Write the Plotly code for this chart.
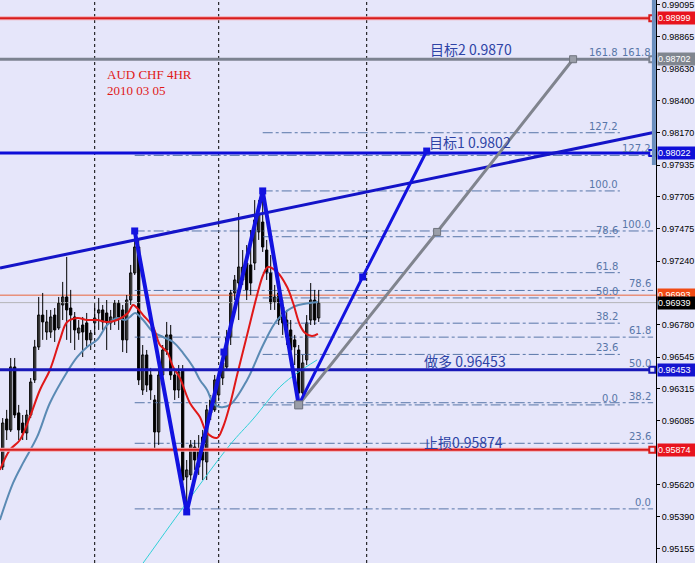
import plotly.graph_objects as go

# ---------------- data ----------------
candle_idx = list(range(80))
opens = [0.95749,0.96096,0.96017,0.96473,0.96140,0.96067,0.95995,0.96125,0.96379,0.96618,
         0.96849,0.96726,0.96726,0.96849,0.96755,0.96922,0.96980,0.96900,0.96835,0.96719,
         0.96777,0.96792,0.96669,0.96792,0.96864,0.96886,0.96864,0.96792,0.96813,0.96936,
         0.96886,0.96669,0.96958,0.97154,0.97342,0.96306,0.96560,0.96415,0.96234,0.96002,
         0.96415,0.96596,0.96705,0.96415,0.96306,0.96451,0.95676,0.95691,0.95893,0.95749,
         0.95966,0.95785,0.96140,0.96162,0.96270,0.96393,0.96473,0.96690,0.97009,0.97081,
         0.97103,0.97226,0.97212,0.97226,0.97451,0.97523,0.97320,0.97154,0.96944,0.97009,
         0.96907,0.96813,0.96741,0.96669,0.96596,0.96285,0.96524,0.96813,0.96958,0.96828]
highs = [0.96103,0.96162,0.96538,0.96538,0.96198,0.96125,0.96162,0.96393,0.96669,0.96980,
         0.97009,0.96886,0.96886,0.96900,0.96980,0.97089,0.97270,0.97031,0.96871,0.96813,
         0.96835,0.96864,0.96741,0.96922,0.96973,0.96922,0.96958,0.96886,0.96958,0.96958,
         0.96922,0.96994,0.97212,0.97458,0.97393,0.96632,0.96596,0.96466,0.96270,0.96466,
         0.96632,0.96799,0.96777,0.96451,0.96487,0.96487,0.95799,0.95944,0.95944,0.95980,
         0.96017,0.96198,0.96270,0.96415,0.96451,0.96560,0.96741,0.97031,0.97139,0.97588,
         0.97320,0.97356,0.97465,0.97682,0.97682,0.97748,0.97393,0.97284,0.97067,0.97081,
         0.96958,0.96886,0.96813,0.96705,0.96632,0.96560,0.96849,0.97081,0.97031,0.97031]
lows = [0.95727,0.95944,0.96002,0.96103,0.95944,0.95944,0.95944,0.96103,0.96357,0.96596,
        0.96669,0.96669,0.96683,0.96654,0.96741,0.96813,0.96669,0.96647,0.96596,0.96669,
        0.96545,0.96618,0.96596,0.96705,0.96741,0.96741,0.96596,0.96741,0.96777,0.96741,
        0.96581,0.96574,0.96922,0.97139,0.96342,0.96270,0.96292,0.96234,0.95872,0.95908,
        0.96379,0.96560,0.96379,0.96234,0.96248,0.95618,0.95423,0.95654,0.95727,0.95691,
        0.95654,0.95654,0.96089,0.96147,0.96234,0.96342,0.96451,0.96632,0.96958,0.96813,
        0.97067,0.96958,0.96994,0.97175,0.97393,0.97306,0.97103,0.96886,0.96886,0.96777,
        0.96705,0.96632,0.96524,0.96487,0.96198,0.96234,0.96487,0.96777,0.96777,0.96799]
closes = [0.96067,0.96017,0.96473,0.96125,0.96017,0.95995,0.96125,0.96364,0.96618,0.96849,
          0.96799,0.96799,0.96835,0.96741,0.96936,0.96980,0.96886,0.96849,0.96741,0.96755,
          0.96726,0.96669,0.96719,0.96828,0.96886,0.96799,0.96799,0.96835,0.96936,0.96835,
          0.96669,0.96958,0.97154,0.97342,0.96379,0.96560,0.96342,0.96306,0.96002,0.96415,
          0.96596,0.96705,0.96415,0.96306,0.96437,0.95654,0.95727,0.95908,0.95799,0.95872,
          0.95799,0.96162,0.96234,0.96379,0.96393,0.96502,0.96690,0.97009,0.97103,0.97197,
          0.97197,0.97031,0.97081,0.97538,0.97574,0.97342,0.97154,0.96936,0.96980,0.96813,
          0.96792,0.96690,0.96596,0.96618,0.96285,0.96502,0.96792,0.96958,0.96813,0.96936]

ma_fast_x = [-0.7,1.8,4.3,6.8,9.3,11.8,14.3,16.1,18.6,21.1,23.6,26.1,28.6,31.3,32.6,33.6,35.1,37.6,
             39.3,41.1,42.6,44.3,46.8,49.3,51.1,53.6,55.1,56.8,58.6,61.1,63.6,65.1,66.3,68.6,71.1,
             72.6,74.3,75.6,77.3,78.8]
ma_fast = [0.95727,0.95872,0.95944,0.96111,0.96306,0.96451,0.96669,0.96799,0.96828,0.96813,
           0.96813,0.96799,0.96813,0.96864,0.96922,0.96900,0.96849,0.96763,0.96632,0.96581,
           0.96473,0.96393,0.96212,0.96111,0.95995,0.95959,0.96038,0.96198,0.96415,0.96705,
           0.96994,0.97139,0.97197,0.97161,0.97052,0.96936,0.96777,0.96719,0.96697,0.96712]

ma_mid_x = [-0.7,2.6,5.1,8.6,11.8,16.1,18.6,21.1,23.6,26.1,28.6,30.6,31.8,33.1,35.1,37.6,40.1,
            42.6,45.1,47.6,49.3,51.1,52.6,54.3,56.8,61.1,65.1,68.6,72.6,76.8,78.8]
ma_mid = [0.95365,0.95633,0.95778,0.95966,0.96212,0.96437,0.96545,0.96618,0.96669,0.96777,
          0.96828,0.96813,0.96835,0.96864,0.96813,0.96726,0.96690,0.96654,0.96574,0.96473,
          0.96379,0.96306,0.96212,0.96183,0.96198,0.96379,0.96632,0.96813,0.96907,0.96936,0.96944]

ma_slow_x = [31.8,35.1,44.3,56.8,62.6,69.3,73.6,78.6]
ma_slow = [0.94923,0.95053,0.95423,0.95908,0.96096,0.96328,0.96429,0.96524]

# harmonic pattern X-A-B-C and projections
pattern_x = [33, 46, 65, 74]
pattern_y = [0.97458, 0.95423, 0.97748, 0.96198]
ab_mid_x = [55.3]
ab_mid_y = [0.96581]
proj_blue_x = [74, 90, 106]
proj_blue_y = [0.96198, 0.97125, 0.98037]
proj_gray_x = [74, 108.6, 142.6]
proj_gray_y = [0.96198, 0.97451, 0.98702]

trend_x = [-0.675, 163.3]
trend_y = [0.97190, 0.98175]

# horizontal price levels
stop_loss = 0.95874
entry = 0.96453
target1 = 0.98022
target2 = 0.98702
top_red = 0.98999
ask_price = 0.96993
bid_price = 0.96939

fib_levels = [0.0, 23.6, 38.2, 50.0, 61.8, 78.6, 100.0, 127.2, 161.8]
fib1 = dict(lo=0.96198, hi=0.97748, x0=65, x1=154.3)
fib2 = dict(lo=0.95445, hi=0.97458, x0=33, x1=162.6)

grid_x = [23, 54, 91]

# visible price-scale ticks (0.97010 and 0.95850 are hidden behind price tags in the original)
tick_vals = [0.99095, 0.98865, 0.98630, 0.98400, 0.98170, 0.97935, 0.97705, 0.97475, 0.97240,
             0.96780, 0.96545, 0.96315, 0.96085, 0.95620, 0.95390, 0.95155]
tick_text = ["%.5f" % v for v in tick_vals]

Y_RANGE = [0.95053, 0.99131]
X_RANGE = [-0.675, 163.325]

BG = "#E6E6FA"
FIBC = "#5876A8"
TXTC = "#2E44A6"

fig = go.Figure()

# fib sets
for fs in (fib1, fib2):
    xs, ys = [], []
    for lv in fib_levels:
        p = fs["lo"] + lv / 100.0 * (fs["hi"] - fs["lo"])
        xs += [fs["x0"], fs["x1"], None]
        ys += [p, p, None]
    fig.add_trace(go.Scatter(x=xs, y=ys, mode="lines",
                             line=dict(color=FIBC, width=1, dash="10px,3px,3px,3px"),
                             hoverinfo="skip", showlegend=False))

# thin bid/ask lines
fig.add_trace(go.Scatter(x=X_RANGE, y=[ask_price, ask_price], mode="lines",
                         line=dict(color="#E8643C", width=1), showlegend=False, hoverinfo="skip"))
fig.add_trace(go.Scatter(x=X_RANGE, y=[bid_price, bid_price], mode="lines",
                         line=dict(color="#B4B4B8", width=1), showlegend=False, hoverinfo="skip"))

# candles: wicks + bodies
wx, wy = [], []
for i, h, l in zip(candle_idx, highs, lows):
    wx += [i, i, None]
    wy += [l, h, None]
fig.add_trace(go.Scatter(x=wx, y=wy, mode="lines", line=dict(color="black", width=1),
                         showlegend=False, hoverinfo="skip"))
body_base = [min(o, c) for o, c in zip(opens, closes)]
body_len = [max(abs(c - o), 0.00003) for o, c in zip(opens, closes)]
body_col = ["white" if c >= o else "black" for o, c in zip(opens, closes)]
fig.add_trace(go.Bar(x=candle_idx, y=body_len, base=body_base, width=0.55,
                     marker=dict(color=body_col, line=dict(color="black", width=1)),
                     showlegend=False, hoverinfo="skip"))

# moving averages
fig.add_trace(go.Scatter(x=ma_slow_x, y=ma_slow, mode="lines", line=dict(color="#30D0D8", width=1, shape="spline"),
                         showlegend=False, hoverinfo="skip"))
fig.add_trace(go.Scatter(x=ma_mid_x, y=ma_mid, mode="lines", line=dict(color="#5A8AB4", width=2, shape="spline"),
                         showlegend=False, hoverinfo="skip"))
fig.add_trace(go.Scatter(x=ma_fast_x, y=ma_fast, mode="lines", line=dict(color="#E01818", width=2, shape="spline"),
                         showlegend=False, hoverinfo="skip"))

# horizontal levels
def hline(p, color, width, halo=None):
    if halo:
        fig.add_trace(go.Scatter(x=[X_RANGE[0], 162.4], y=[p, p], mode="lines",
                                 line=dict(color=halo, width=width + 2), showlegend=False, hoverinfo="skip"))
    fig.add_trace(go.Scatter(x=[X_RANGE[0], 162.4], y=[p, p], mode="lines",
                             line=dict(color=color, width=width), showlegend=False, hoverinfo="skip"))
    fig.add_trace(go.Scatter(x=[162.4], y=[p], mode="markers",
                             marker=dict(symbol="square", size=6, color=BG, line=dict(color=color, width=2)),
                             showlegend=False, hoverinfo="skip"))

hline(top_red, "#D81C1C", 2, halo="#F2A8B0")
hline(target2, "#7C8290", 3)
hline(target1, "#0D0DD8", 3)
hline(entry, "#1818B8", 3)
hline(stop_loss, "#D81C1C", 2, halo="#F2A8B0")

# trend line
fig.add_trace(go.Scatter(x=trend_x, y=trend_y, mode="lines", line=dict(color="#1414C8", width=3),
                         showlegend=False, hoverinfo="skip"))

# projections
fig.add_trace(go.Scatter(x=proj_gray_x, y=proj_gray_y, mode="lines+markers",
                         line=dict(color="#80848E", width=3),
                         marker=dict(symbol="square", size=7, color="#9A9EA8", line=dict(color="#70747E", width=1)),
                         showlegend=False, hoverinfo="skip"))
fig.add_trace(go.Scatter(x=pattern_x, y=pattern_y, mode="lines+markers",
                         line=dict(color="#1212E0", width=4),
                         marker=dict(symbol="square", size=7, color="#1212E0"),
                         showlegend=False, hoverinfo="skip"))
fig.add_trace(go.Scatter(x=proj_blue_x, y=proj_blue_y, mode="lines+markers",
                         line=dict(color="#1212E0", width=3),
                         marker=dict(symbol="square", size=7, color="#1212E0"),
                         showlegend=False, hoverinfo="skip"))
fig.add_trace(go.Scatter(x=ab_mid_x, y=ab_mid_y, mode="markers",
                         marker=dict(symbol="square", size=7, color="#1212E0"),
                         showlegend=False, hoverinfo="skip"))
fig.add_trace(go.Scatter(x=[74], y=[pattern_y[3]], mode="markers",
                         marker=dict(symbol="square", size=8, color="#9A9EA8", line=dict(color="#70747E", width=1)),
                         showlegend=False, hoverinfo="skip"))

shapes = []
for gx in grid_x:
    shapes.append(dict(type="line", xref="x", yref="paper", x0=gx, x1=gx, y0=0, y1=1,
                       line=dict(color="black", width=1, dash="3px,3px"), layer="below"))
shapes.append(dict(type="rect", xref="x", yref="y", x0=162.3, x1=163.3, y0=0.97936, y1=Y_RANGE[1],
                   fillcolor="#6A8FBF", line=dict(width=0)))

annotations = []
# fib labels
for fs in (fib1, fib2):
    for lv in fib_levels:
        p = fs["lo"] + lv / 100.0 * (fs["hi"] - fs["lo"])
        annotations.append(dict(x=fs["x1"], y=p, xref="x", yref="y", text="%.1f" % lv,
                                showarrow=False, xanchor="right", yanchor="bottom", yshift=-1,
                                font=dict(family="DejaVu Sans", size=10, color=FIBC)))

cjk = "Noto Sans CJK SC"
annotations += [
    dict(x=106.3, y=0.98776, text="目标2 0.9870", showarrow=False, xanchor="left", yanchor="middle",
         font=dict(family=cjk, size=14, color=TXTC)),
    dict(x=106.1, y=0.98103, text="目标1 0.9802", showarrow=False, xanchor="left", yanchor="middle",
         font=dict(family=cjk, size=14, color=TXTC)),
    dict(x=104.8, y=0.96516, text="做多 0.96453", showarrow=False, xanchor="left", yanchor="middle",
         font=dict(family=cjk, size=14, color=TXTC)),
    dict(x=104.8, y=0.95930, text="止损0.95874", showarrow=False, xanchor="left", yanchor="middle",
         font=dict(family=cjk, size=14, color=TXTC)),
    dict(x=25.6, y=0.98588, text="AUD CHF 4HR", showarrow=False, xanchor="left", yanchor="middle",
         font=dict(family="Liberation Serif", size=13, color="#E01818")),
    dict(x=25.6, y=0.98479, text="2010 03 05", showarrow=False, xanchor="left", yanchor="middle",
         font=dict(family="Liberation Serif", size=13, color="#E01818")),
]

# price labels on axis
price_tags = [(top_red, "#E8141E"), (target2, "#80868F"), (target1, "#1010D8"),
              (ask_price, "#F04A14"), (bid_price, "#000000"), (entry, "#1414D0"), (stop_loss, "#E8141E")]
for p, c in price_tags:
    annotations.append(dict(x=1, xref="paper", y=p, yref="y", text="%.5f" % p, showarrow=False,
                            xanchor="left", yanchor="middle", xshift=1, bgcolor=c, width=37, height=12,
                            borderpad=0, align="left",
                            font=dict(family="Liberation Sans", size=9, color="white")))

fig.update_layout(
    width=695, height=563,
    margin=dict(l=0, r=39, t=0, b=0, autoexpand=False),
    paper_bgcolor=BG, plot_bgcolor=BG,
    showlegend=False, barmode="overlay",
    shapes=shapes, annotations=annotations,
    xaxis=dict(range=X_RANGE, showgrid=False, zeroline=False, showticklabels=False,
               showline=False, ticks=""),
    yaxis=dict(range=Y_RANGE, side="right", showgrid=False, zeroline=False,
               tickvals=tick_vals, ticktext=tick_text, ticks="outside", ticklen=3,
               tickcolor="black", showline=True, linecolor="black", linewidth=1,
               tickfont=dict(family="Liberation Sans", size=9, color="black")),
)

fig.write_html("out.html", config={"displayModeBar": False},
               post_script="document.body.style.margin='0px';document.body.style.overflow='hidden';document.body.style.background='%s';" % BG)
